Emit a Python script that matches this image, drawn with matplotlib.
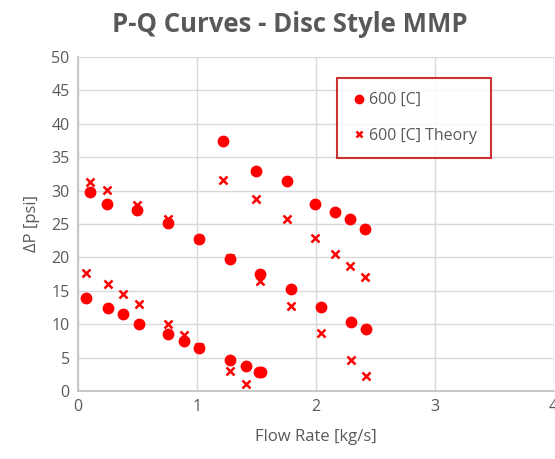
import matplotlib.pyplot as plt

# measured points, three branches each
flow_meas = [0.10, 0.24, 0.50, 0.76, 1.02, 1.28, 1.53, 1.79, 2.04, 2.30, 2.42,
             1.22, 1.50, 1.76, 1.99, 2.16, 2.29, 2.41,
             0.065, 0.255, 0.38, 0.51, 0.76, 0.89, 1.02, 1.28, 1.41, 1.52, 1.54]
dp_meas = [29.8, 28.0, 27.1, 25.1, 22.8, 19.8, 17.5, 15.2, 12.6, 10.4, 9.3,
           37.4, 33.0, 31.5, 28.0, 26.8, 25.7, 24.2,
           13.9, 12.5, 11.6, 10.1, 8.6, 7.5, 6.4, 4.6, 3.7, 2.9, 2.8]

flow_theory = [0.10, 0.24, 0.50, 0.76, 1.02, 1.28, 1.53, 1.79, 2.04, 2.30, 2.42,
               1.22, 1.50, 1.76, 1.99, 2.16, 2.29, 2.41,
               0.065, 0.255, 0.38, 0.51, 0.76, 0.89, 1.02, 1.28, 1.41]
dp_theory = [31.3, 30.1, 27.8, 25.7, 22.8, 19.9, 16.4, 12.7, 8.7, 4.6, 2.3,
             31.6, 28.7, 25.7, 22.9, 20.5, 18.7, 17.1,
             17.7, 16.0, 14.5, 13.0, 10.1, 8.4, 6.6, 3.0, 1.05]

GRAY = '#595959'
plt.rcParams['font.family'] = ['Open Sans', 'DejaVu Sans']

fig = plt.figure(figsize=(5.55, 4.59), dpi=100)
ax = fig.add_axes([0.1405, 0.148, 0.857, 0.728])

ax.plot(flow_meas, dp_meas, 'o', color='#ff0000', markersize=7.5,
        label='600 [C]', zorder=3)
ax.plot(flow_theory, dp_theory, 'x', color='#ff0000', markersize=6,
        markeredgewidth=1.8, label='600 [C] Theory', zorder=3)

ax.set_xlim(0, 4)
ax.set_ylim(0, 50)
ax.set_xticks([0, 1, 2, 3, 4])
ax.set_yticks(range(0, 51, 5))
ax.grid(True, color='#d9d9d9', linewidth=1)
ax.set_axisbelow(True)
for s in ['top', 'right']:
    ax.spines[s].set_visible(False)
for s in ['left', 'bottom']:
    ax.spines[s].set_color('#bfbfbf')
    ax.spines[s].set_linewidth(1.2)
ax.tick_params(length=0, labelsize=11.5, colors=GRAY, pad=6)

ax.set_xlabel('Flow Rate [kg/s]', fontsize=12, color=GRAY, labelpad=10)
ax.set_ylabel('ΔP [psi]', fontsize=12, color=GRAY, labelpad=8)
fig.suptitle('P-Q Curves - Disc Style MMP', fontsize=18.5, fontweight='bold',
             color=GRAY, x=0.523, y=0.977)

leg = ax.legend(loc='upper left', bbox_to_anchor=(0.544, 0.937), frameon=True,
                fancybox=False, fontsize=11.5, labelcolor=GRAY, handletextpad=0.1,
                labelspacing=1.2, borderpad=0.9, handlelength=1.0,
                borderaxespad=0, markerscale=0.8)
leg.get_frame().set_edgecolor('#c00000')
leg.get_frame().set_linewidth(1.5)

fig.savefig('out.png', dpi=100)
